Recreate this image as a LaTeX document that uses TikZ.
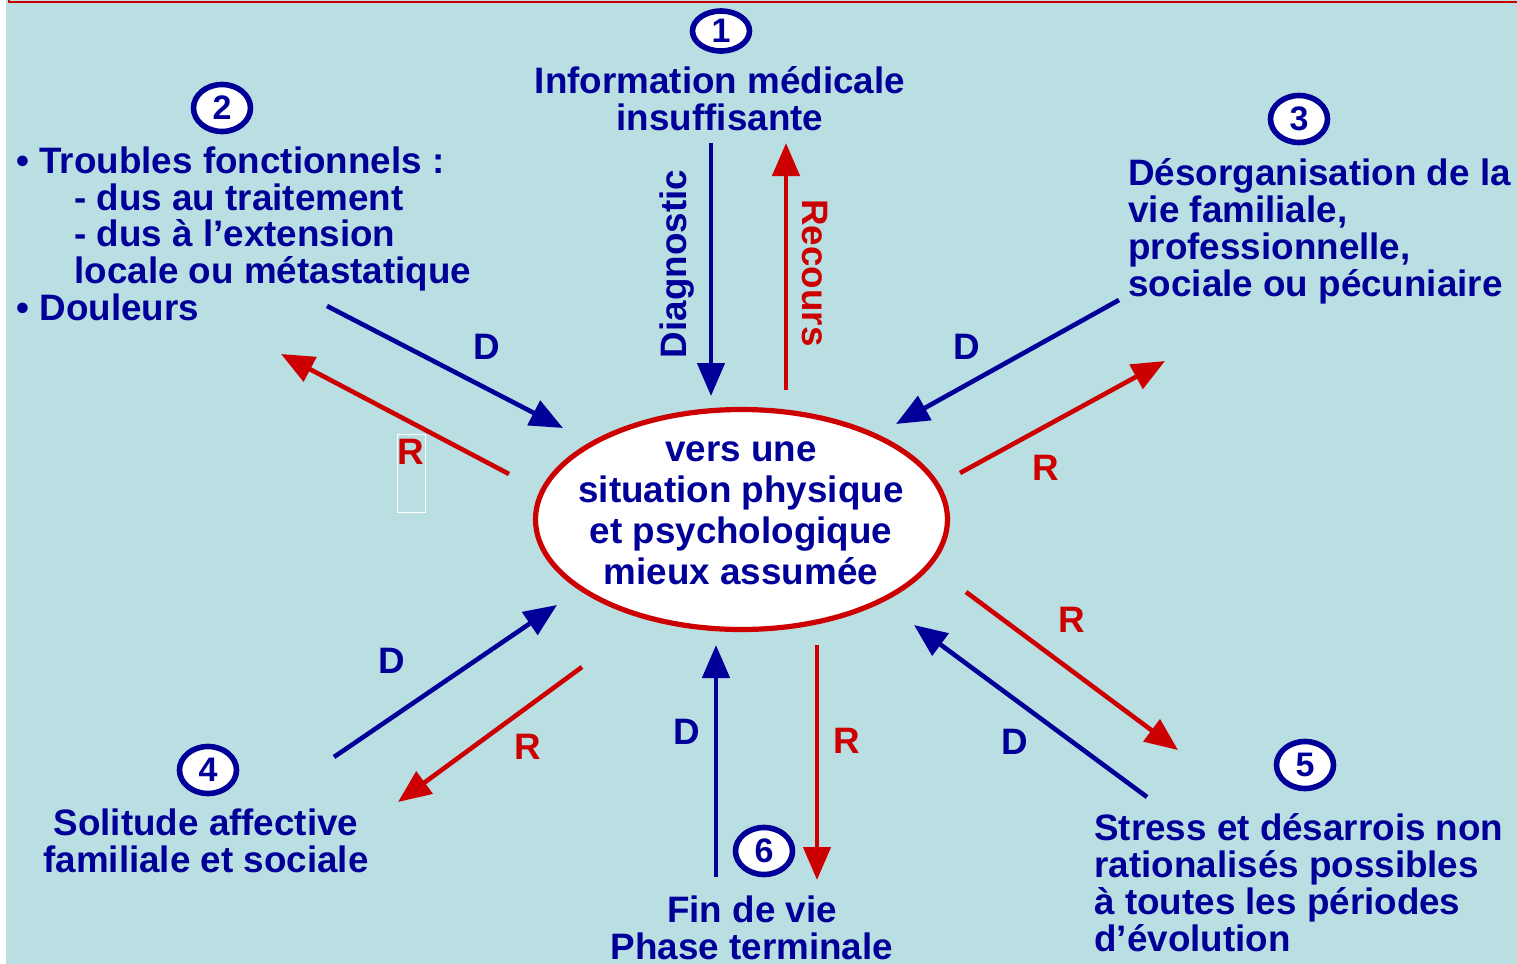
\documentclass[tikz,border=0pt]{standalone}
\usepackage{fontspec}
\setmainfont{Liberation Sans}
\usetikzlibrary{arrows.meta,shapes.geometric}
\definecolor{navy}{RGB}{0,0,153}
\definecolor{myred}{RGB}{204,0,0}
\definecolor{bgblue}{RGB}{186,223,227}
\begin{document}
\begin{tikzpicture}[x=0.5pt,y=-0.5pt,
  bigfont/.style={font=\bfseries\fontsize{18.4}{18.4}\selectfont},
  txt/.style={bigfont, text=navy, inner sep=0pt},
  dlbl/.style={bigfont, text=navy, inner sep=0pt},
  rlbl/.style={bigfont, text=myred, inner sep=0pt},
  numb/.style={ellipse, draw=navy, line width=2.8pt, fill=white, minimum width=28.5pt, minimum height=23.5pt, inner sep=0pt, text=navy, font=\bfseries\fontsize{17}{17}\selectfont},
  darr/.style={draw=navy, line width=2.3pt, -{Triangle[length=16.5pt,width=13.5pt]}},
  rarr/.style={draw=myred, line width=2.3pt, -{Triangle[length=16.5pt,width=13.5pt]}},
]
\useasboundingbox (0,0) rectangle (1517,964);
\fill[white] (0,0) rectangle (1517,964);
\fill[bgblue] (6,0) rectangle (1517,964);
\draw[myred, line width=1pt] (9,0) -- (9,1.5) -- (1517,1.5);

% central ellipse
\node[ellipse, draw=myred, line width=2.6pt, fill=white, minimum width=206pt, minimum height=110pt] (ctr) at (741.5,519.5) {};
\node[txt, anchor=base, align=center, font=\bfseries\fontsize{18.4}{20.5}\selectfont] (ctxt) at (741,584) {vers une\\situation physique\\et psychologique\\mieux assumée};

% numbers
\node[numb, minimum height=20pt] (n1) at (721,31) {1};
\node[numb] (n2) at (222,108) {2};
\node[numb] (n3) at (1299,119) {3};
\node[numb] (n4) at (208,770) {4};
\node[numb] (n5) at (1305,765) {5};
\node[numb] (n6) at (764,851) {6};

% texts (base anchor = baseline of last line)
\node[txt, anchor=base, align=center] (t1) at (720,130) {Information médicale\\insuffisante};
\node[txt, anchor=base west, align=left] (t2) at (16,320.5) {• Troubles fonctionnels :\\\hspace*{29pt}- dus au traitement\\\hspace*{29pt}- dus à l’extension\\\hspace*{29pt}locale ou métastatique\\• Douleurs};
\node[txt, anchor=base west, align=left] (t3) at (1128,296) {Désorganisation de la\\vie familiale,\\professionnelle,\\sociale ou pécuniaire};
\node[txt, anchor=base, align=center] (t4) at (206,872) {Solitude affective\\familiale et sociale};
\node[txt, anchor=base west, align=left] (t5) at (1094,951) {Stress et désarrois non\\rationalisés possibles\\à toutes les périodes\\d’évolution};
\node[txt, anchor=base, align=center] (t6) at (752,959) {Fin de vie\\Phase terminale};

% rotated labels
\node[dlbl, rotate=90] (diag) at (677,264) {Diagnostic};
\node[rlbl, rotate=-90] (rec) at (815,273) {Recours};

% arrow endpoints
\coordinate (a1s) at (711,143); \coordinate (a1e) at (711,396);
\coordinate (b1s) at (786,390); \coordinate (b1e) at (786,143);
\coordinate (a2s) at (327,306); \coordinate (a2e) at (563,428);
\coordinate (b2s) at (509,474); \coordinate (b2e) at (281,354);
\coordinate (a3s) at (1119,300); \coordinate (a3e) at (896,424);
\coordinate (b3s) at (960,473); \coordinate (b3e) at (1165,361);
\coordinate (a4s) at (334,757); \coordinate (a4e) at (557,605);
\coordinate (b4s) at (582,667); \coordinate (b4e) at (398,802);
\coordinate (a5s) at (1147,797); \coordinate (a5e) at (914,625);
\coordinate (b5s) at (966,592); \coordinate (b5e) at (1178,750);
\coordinate (a6s) at (716,877); \coordinate (a6e) at (716,645);
\coordinate (b6s) at (817,645); \coordinate (b6e) at (817,880);

\draw[darr] (a1s) -- (a1e);
\draw[rarr] (b1s) -- (b1e);
\draw[darr] (a2s) -- (a2e);
\draw[rarr] (b2s) -- (b2e);
\draw[darr] (a3s) -- (a3e);
\draw[rarr] (b3s) -- (b3e);
\draw[darr] (a4s) -- (a4e);
\draw[rarr] (b4s) -- (b4e);
\draw[darr] (a5s) -- (a5e);
\draw[rarr] (b5s) -- (b5e);
\draw[darr] (a6s) -- (a6e);
\draw[rarr] (b6s) -- (b6e);

% D / R labels
\node[dlbl] (d2) at (487,347) {D};
\node[rlbl] (r2) at (411,452) {R};
\draw[white, line width=0.5pt] (397,434) rectangle (425,512);
\node[dlbl] (d3) at (967,347) {D};
\node[rlbl] (r3) at (1046,468) {R};
\node[dlbl] (d4) at (392,661) {D};
\node[rlbl] (r4) at (528,747) {R};
\node[rlbl] (r5) at (1072,620) {R};
\node[dlbl] (d5) at (1015,742) {D};
\node[dlbl] (d6) at (687,732) {D};
\node[rlbl] (r6) at (847,741) {R};
\end{tikzpicture}
\end{document}
